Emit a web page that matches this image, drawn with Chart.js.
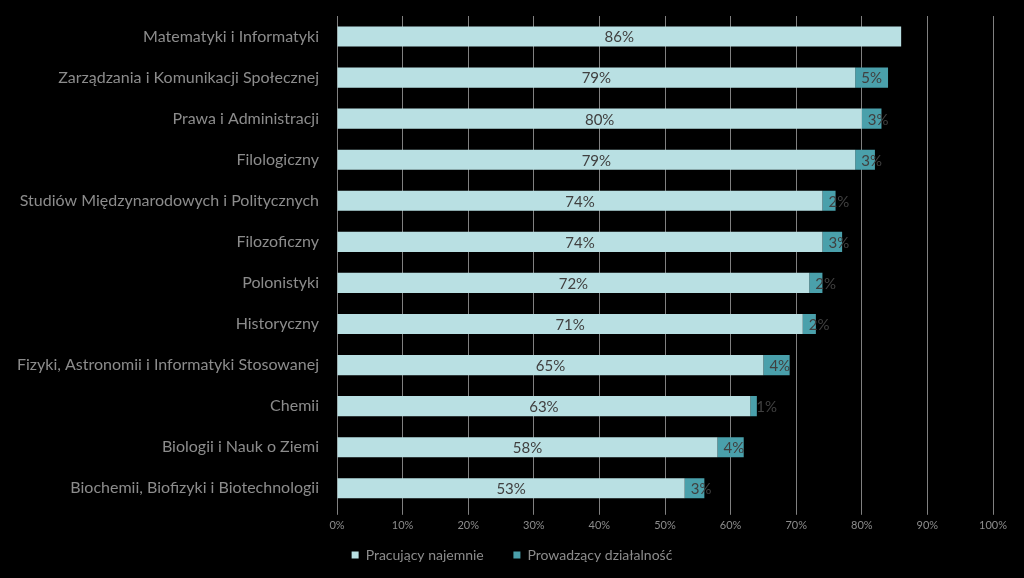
<!DOCTYPE html>
<html>
<head>
<meta charset="utf-8">
<script src="https://cdn.jsdelivr.net/npm/chart.js@4/dist/chart.umd.min.js"></script>
<style>
    html, body { margin: 0; padding: 0; background: #000; }
    #wrap { width: 1024px; height: 578px; }
</style>
</head>
<body>
<div id="wrap"><canvas id="barChart"></canvas></div>
<script>
const categories = [
    "Matematyki i Informatyki",
    "Zarządzania i Komunikacji Społecznej",
    "Prawa i Administracji",
    "Filologiczny",
    "Studiów Międzynarodowych i Politycznych",
    "Filozoficzny",
    "Polonistyki",
    "Historyczny",
    "Fizyki, Astronomii i Informatyki Stosowanej",
    "Chemii",
    "Biologii i Nauk o Ziemi",
    "Biochemii, Biofizyki i Biotechnologii"
];
const employed = [86, 79, 80, 79, 74, 74, 72, 71, 65, 63, 58, 53];
const selfEmployed = [0, 5, 3, 3, 2, 3, 2, 2, 4, 1, 4, 3];
const seriesNames = ["Pracujący najemnie", "Prowadzący działalność"];

const FONT = "Lato, 'Open Sans', sans-serif";

// percentage labels: centred for the first series, near the bar base for the second
const barLabels = {
    id: "barLabels",
    afterDatasetsDraw(chart) {
        const ctx = chart.ctx;
        ctx.save();
        ctx.font = "15px " + FONT;
        ctx.fillStyle = "#404040";
        ctx.textBaseline = "middle";
        chart.data.datasets.forEach((ds, i) => {
            chart.getDatasetMeta(i).data.forEach((bar, j) => {
                const v = ds.data[j];
                if (!v) return;
                if (i === 0) {
                    ctx.textAlign = "center";
                    ctx.fillText(v + "%", (bar.x + bar.base) / 2, bar.y + 1);
                } else {
                    ctx.textAlign = "left";
                    ctx.fillText(v + "%", bar.base + 6, bar.y + 1);
                }
            });
        });
        ctx.restore();
    }
};

const chart = new Chart(document.getElementById("barChart"), {
    type: "bar",
    data: {
        labels: categories,
        datasets: [
            { label: seriesNames[0], data: employed, backgroundColor: "#b9e0e3" },
            { label: seriesNames[1], data: selfEmployed, backgroundColor: "#4aa0ab" }
        ]
    },
    options: {
        indexAxis: "y",
        responsive: true,
        maintainAspectRatio: false,
        animation: false,
        layout: { padding: { top: 16, right: 0, left: 0, bottom: 6 } },
        datasets: { bar: { barPercentage: 0.49, categoryPercentage: 1 } },
        scales: {
            x: {
                stacked: true,
                min: 0,
                max: 100,
                ticks: {
                    stepSize: 10,
                    color: "#8c8c8c",
                    font: { family: FONT, size: 11 },
                    padding: 4,
                    callback: v => v + "%"
                },
                grid: { color: "#808080", lineWidth: 1, drawTicks: true, tickLength: 6 },
                border: { display: false }
            },
            y: {
                stacked: true,
                ticks: {
                    color: "#8c8c8c",
                    font: { family: FONT, size: 16 },
                    padding: 10,
                    autoSkip: false
                },
                grid: { display: false },
                border: { display: false },
                afterFit(scale) {
                    scale.width = 337;
                    scale.paddingTop = 0;
                    scale.paddingBottom = 0;
                }
            },
            // empty right-hand axis, only keeps the right margin so the legend stays centred on the page
            yRight: {
                position: "right",
                ticks: { display: false },
                grid: { display: false },
                border: { display: false },
                afterFit(scale) { scale.width = 31; }
            }
        },
        plugins: {
            legend: {
                position: "bottom",
                labels: {
                    color: "#8c8c8c",
                    font: { family: FONT, size: 14 },
                    boxWidth: 7,
                    boxHeight: 7,
                    padding: 12,
                    // wider gap after the first entry without making the legend taller
                    generateLabels(chart) {
                        const items = Chart.defaults.plugins.legend.labels.generateLabels(chart);
                        items[0].text += "\u2003  ";
                        return items;
                    }
                }
            },
            tooltip: { enabled: false }
        }
    },
    plugins: [barLabels]
});
</script>
</body>
</html>
